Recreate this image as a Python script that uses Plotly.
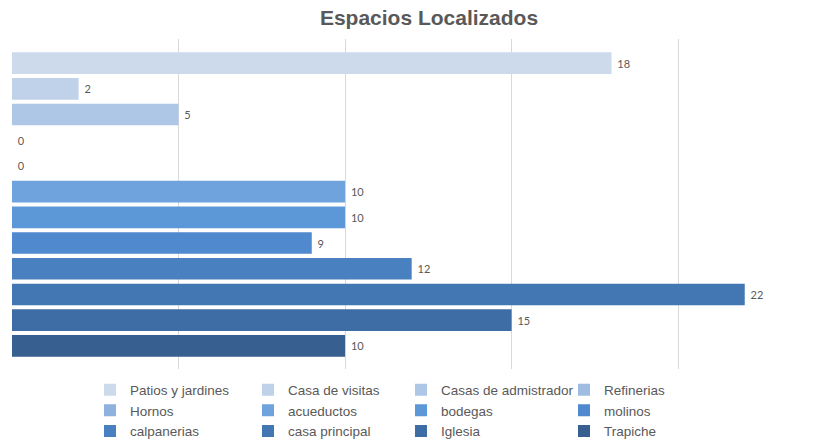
import plotly.graph_objects as go

title = "Espacios Localizados"
categories = ["Patios y jardines", "Casa de visitas", "Casas de admistrador", "Refinerias",
              "Hornos", "acueductos", "bodegas", "molinos",
              "calpanerias", "casa principal", "Iglesia", "Trapiche"]
values = [18, 2, 5, 0, 0, 10, 10, 9, 12, 22, 15, 10]
colors = ["#ccdaec", "#bfd2ea", "#afc7e6", "#a0bce1",
          "#8fb1dd", "#6ea3de", "#5c97d8", "#5089cd",
          "#4981c0", "#4377b3", "#3e6ca4", "#375f8f"]
grid_ticks = [0, 5, 10, 15, 20]

TEXT = "#595959"
LABEL_FONT = dict(family="Lato, 'Open Sans', sans-serif", size=11, color=TEXT)

W, H = 836, 441
ML, MR, MT, MB = 12, 0, 39, 72
PW, PH = W - ML - MR, H - MT - MB

fig = go.Figure()
for i, (name, val, col) in enumerate(zip(categories, values, colors)):
    fig.add_trace(go.Bar(
        y=[name], x=[val], name=name, orientation="h",
        marker=dict(color=col, line=dict(width=0)),
        width=0.84,
        text=[f" {val}"], textposition="outside", cliponaxis=False,
        textfont=LABEL_FONT,
        legend="legend" if i % 4 == 0 else f"legend{i % 4 + 1}",
    ))

# four legend columns, three entries each, laid out row by row
leg_top_px = 374.5
leg_common = dict(orientation="v", yanchor="top", y=(H - MB - leg_top_px) / PH,
                  xanchor="left",
                  font=dict(family="Liberation Sans, Arial, sans-serif", size=13.5, color=TEXT),
                  bgcolor="rgba(0,0,0,0)", itemwidth=30, tracegroupgap=0,
                  itemclick=False, itemdoubleclick=False)
col_text_x = [130, 288, 441, 604]
legend_layout = {}
for k, tx in enumerate(col_text_x):
    key = "legend" if k == 0 else f"legend{k + 1}"
    legend_layout[key] = dict(leg_common, x=(tx - 40 - ML) / PW)

fig.update_layout(
    width=W, height=H,
    margin=dict(l=ML, r=MR, t=MT, b=MB, autoexpand=False),
    paper_bgcolor="white", plot_bgcolor="white",
    barmode="overlay",
    title=dict(text=f"<b>{title}</b>", x=429 / W, xanchor="center",
               y=1 - 18 / H, yanchor="middle",
               font=dict(family="Liberation Sans, Arial, sans-serif", size=21, color=TEXT)),
    xaxis=dict(range=[0, 24.74], tickvals=grid_ticks, showticklabels=False,
               showgrid=True, gridcolor="#d9d9d9", gridwidth=1, zeroline=False,
               showline=False, fixedrange=True),
    yaxis=dict(categoryorder="array", categoryarray=categories,
               range=[11.9, -0.94], showticklabels=False, showgrid=False,
               zeroline=False, showline=False, fixedrange=True),
    showlegend=True,
    **legend_layout,
)

fig.write_html("out.html")
